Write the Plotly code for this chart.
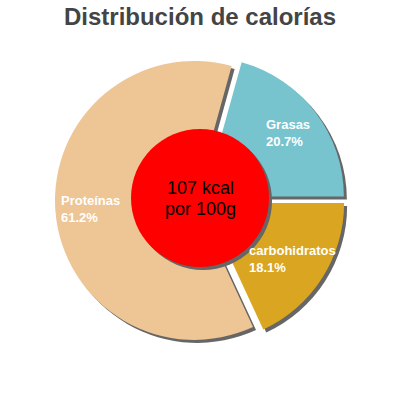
import math
import plotly.graph_objects as go

# Données
nutriments = ["carbohidratos", "Grasas", "Proteínas"]
pourcentages = [18.1, 20.7, 61.2]
couleurs = ["#DAA520", "#77C4CE", "#EEC595"]
energie = ["107 kcal", "por 100g"]
titre = "Distribución de calorías"

W = H = 400
PULL = 0.04
DOM = (0.1375, 0.8625)
DECAL = 3  # décalage de l'ombre en px

fig = go.Figure()

# Ombre du camembert (copie grise décalée)
fig.add_trace(go.Pie(
    labels=nutriments, values=pourcentages, sort=False,
    direction="counterclockwise", rotation=90, pull=PULL,
    marker=dict(colors=["#666666"] * len(nutriments)),
    textinfo="none", hoverinfo="skip", showlegend=False,
    domain=dict(x=[DOM[0] + DECAL / W, DOM[1] + DECAL / W],
                y=[DOM[0] - DECAL / H, DOM[1] - DECAL / H]),
))

# Camembert principal
fig.add_trace(go.Pie(
    labels=nutriments, values=pourcentages, sort=False,
    direction="counterclockwise", rotation=90, pull=PULL,
    marker=dict(colors=couleurs),
    textinfo="none", showlegend=False,
    domain=dict(x=list(DOM), y=list(DOM)),
))

# Position des étiquettes : angle médian de chaque part (comme plotly)
total = sum(pourcentages)
angle = 90 + 360 * pourcentages[0] / total
bornes = [(90, angle)]
courant = 90
for v in pourcentages[1:]:
    bornes.append((courant - 360 * v / total, courant))
    courant -= 360 * v / total

r_label = 110
for nom, v, (a0, a1) in zip(nutriments, pourcentages, bornes):
    mid = math.radians((a0 + a1) / 2)  # sens horaire depuis midi
    px = W / 2 + r_label * math.sin(mid)
    py = H / 2 - r_label * math.cos(mid)
    fig.add_annotation(
        x=px / W, y=1 - py / H, xref="paper", yref="paper",
        text=f"{nom}<br>{v}%", showarrow=False, align="left",
        xanchor="center", yanchor="middle",
        font=dict(family="Liberation Sans", size=13, color="white", weight="bold"),
    )

# Disque rouge central + ombre
r_c = 69
cx, cy = 200, 198
for dx, col in [(DECAL, "#666666"), (0, "#FF0000")]:
    fig.add_shape(
        type="circle", xref="paper", yref="paper",
        x0=(cx - r_c + dx) / W, x1=(cx + r_c + dx) / W,
        y0=1 - (cy + r_c + dx) / H, y1=1 - (cy - r_c + dx) / H,
        fillcolor=col, line=dict(width=0), layer="above",
    )

for ligne, dy in zip(energie, [-10.5, 10.5]):
    fig.add_annotation(
        x=cx / W, y=1 - (cy + dy) / H, xref="paper", yref="paper",
        text=ligne, showarrow=False, xanchor="center", yanchor="middle",
        borderpad=0,
        font=dict(family="Liberation Sans", size=18, color="black"),
    )

fig.update_layout(
    width=W, height=H,
    margin=dict(l=0, r=0, t=0, b=0),
    paper_bgcolor="white", plot_bgcolor="white",
    title=dict(text=titre, x=0.5, xanchor="center",
               y=1 - 17 / H, yanchor="middle", yref="container",
               font=dict(family="Liberation Sans", size=24, color="#444444", weight="bold")),
)

# la page html ajoute une marge de 8px au body : on la supprime
fig.write_html("out.html", config={"displayModeBar": False},
               post_script="document.body.style.margin='0';")
